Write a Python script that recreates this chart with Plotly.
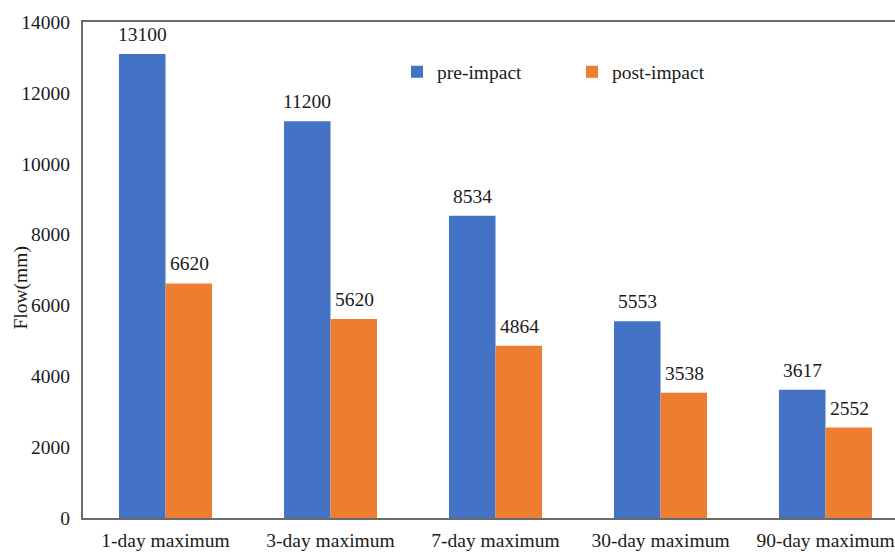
import plotly.graph_objects as go

categories = ["1-day maximum", "3-day maximum", "7-day maximum", "30-day maximum", "90-day maximum"]
pre_impact = [13100, 11200, 8534, 5553, 3617]
post_impact = [6620, 5620, 4864, 3538, 2552]
y_ticks = [0, 2000, 4000, 6000, 8000, 10000, 12000, 14000]

BLUE = "#4472C4"
ORANGE = "#ED7D31"
FONT = "Liberation Serif"
FS = 19.5

fig = go.Figure()
fig.add_trace(go.Bar(x=categories, y=pre_impact, name="pre-impact", marker=dict(color=BLUE, line=dict(width=0))))
fig.add_trace(go.Bar(x=categories, y=post_impact, name="post-impact", marker=dict(color=ORANGE, line=dict(width=0))))

# value labels above bars
for vals, shift in ((pre_impact, -23.5), (post_impact, 23.5)):
    for c, v in zip(categories, vals):
        fig.add_annotation(x=c, y=v, text=str(v), showarrow=False, xref="x", yref="y",
                           xshift=shift, yshift=7, yanchor="bottom",
                           font=dict(family=FONT, size=FS, color="#1a1a1a"))

fig.add_annotation(text="Flow(mm)", textangle=-90, xref="paper", yref="paper",
                   x=-(83 - 20.5) / 812, y=1 - (288 - 22) / 496, xanchor="center", yanchor="middle",
                   showarrow=False, font=dict(family=FONT, size=FS, color="#1a1a1a"))

fig.update_layout(
    width=895, height=552,
    margin=dict(l=83, r=0, t=22, b=34),
    paper_bgcolor="white", plot_bgcolor="white",
    barmode="group", bargap=0.436, bargroupgap=0,
    font=dict(family=FONT, size=FS, color="#1a1a1a"),
    showlegend=True,
    legend=dict(orientation="h", x=(397 - 83) / 812, y=0.899, xanchor="left", yanchor="middle",
                font=dict(family=FONT, size=FS, color="#1a1a1a"),
                entrywidth=130, entrywidthmode="pixels", bgcolor="rgba(0,0,0,0)"),
    xaxis=dict(range=[-0.5, 4.5 - 13 / 165], showline=True, linecolor="#6a6a6a", linewidth=2,
               mirror=True, ticks="", showgrid=False, ticklabelstandoff=4,
               tickfont=dict(family=FONT, size=FS)),
    yaxis=dict(range=[0, 14000], tickvals=y_ticks, tickformat="d", showline=True,
               linecolor="#6a6a6a", linewidth=2,
               ticks="", showgrid=False, zeroline=False, ticklabelstandoff=7,
               tickfont=dict(family=FONT, size=FS)),
)

fig.write_html("out.html")
